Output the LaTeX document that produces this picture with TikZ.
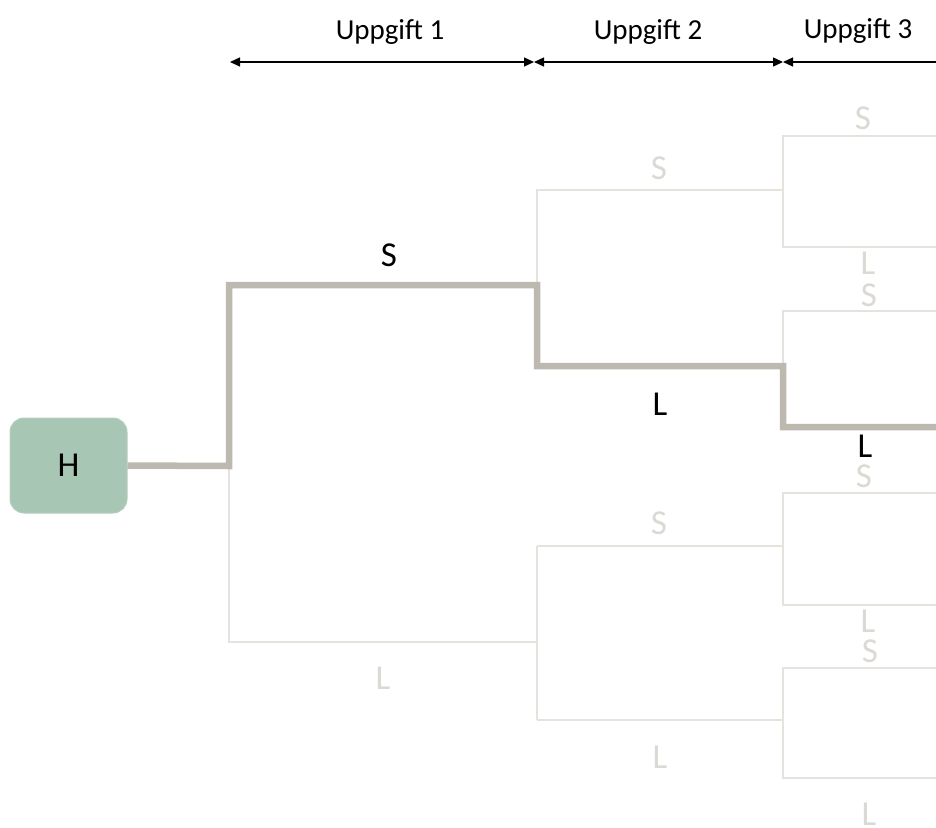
\documentclass[tikz,border=0pt]{standalone}
\usepackage{fontspec}
\setmainfont{Carlito}
\usetikzlibrary{arrows.meta}
\definecolor{pathgray}{HTML}{BDB8B0}
\definecolor{faint}{HTML}{E6E3DF}
\definecolor{fainttext}{HTML}{DCD9D5}
\definecolor{hgreen}{HTML}{A8C6B4}
\begin{document}
\begin{tikzpicture}[x=1pt,y=-1pt,
  thin branch/.style={draw=faint,line width=1.5pt},
  chosen/.style={draw=pathgray,line width=6.5pt,line join=miter},
  span/.style={draw=black,line width=1.3pt,{Triangle[length=10pt,width=9pt]}-{Triangle[length=10pt,width=9pt]}},
  headlbl/.style={font=\fontsize{29}{32}\selectfont,anchor=base,inner sep=0pt},
  lbl/.style={font=\fontsize{35}{38}\selectfont,anchor=base,inner sep=0pt,text=black},
  faintlbl/.style={lbl,text=fainttext},
  hbox/.style={rectangle,rounded corners=14pt,fill=hgreen,draw=hgreen!85!white,line width=1pt,minimum width=117pt,minimum height=95pt,font=\fontsize{35}{38}\selectfont}]
\useasboundingbox (0,0) rectangle (936,827);
\clip (0,0) rectangle (936,827);

% header spans
\coordinate (t0) at (230,62);
\coordinate (t1) at (534,62);
\coordinate (t2) at (783,62);
\coordinate (t3) at (946,62);
\draw[span] (t0) -- (t1);
\draw[span] (t1) -- (t2);
\draw[span] (t2) -- (t3);
\node[headlbl] (u1) at (390,39) {Uppgift 1};
\node[headlbl] (u2) at (648,39) {Uppgift 2};
\node[headlbl] (u3) at (858,38) {Uppgift 3};

% start node
\node[hbox] (H) at (68.5,465.5) {H};

% branch points
\coordinate (a) at (229,466);
\coordinate (aS) at (229,285);
\coordinate (aL) at (229,642);
\coordinate (b1) at (537,285);
\coordinate (b2) at (537,642);
\coordinate (b1S) at (537,190);
\coordinate (b1L) at (537,366);
\coordinate (b2S) at (537,546);
\coordinate (b2L) at (537,720);
\coordinate (c1) at (783,190);
\coordinate (c2) at (783,366);
\coordinate (c3) at (783,546);
\coordinate (c4) at (783,720);
\coordinate (c1S) at (783,136);
\coordinate (c1L) at (783,247);
\coordinate (c2S) at (783,311);
\coordinate (c2L) at (783,427);
\coordinate (c3S) at (783,493);
\coordinate (c3L) at (783,605);
\coordinate (c4S) at (783,668);
\coordinate (c4L) at (783,778);
\coordinate (e1S) at (945,136);
\coordinate (e1L) at (945,247);
\coordinate (e2S) at (945,311);
\coordinate (e2L) at (945,427);
\coordinate (e3S) at (945,493);
\coordinate (e3L) at (945,605);
\coordinate (e4S) at (945,668);
\coordinate (e4L) at (945,778);

% faint branches
\draw[thin branch] (a) -- (aL) -- (b2);
\draw[thin branch] (b1) -- (b1S) -- (c1);
\draw[thin branch] (b2S) -- (b2L);
\draw[thin branch] (b2S) -- (c3);
\draw[thin branch] (b2L) -- (c4);
\draw[thin branch] (e1S) -- (c1S) -- (c1L) -- (e1L);
\draw[thin branch] (e2S) -- (c2S) -- (c2);
\draw[thin branch] (e3S) -- (c3S) -- (c3L) -- (e3L);
\draw[thin branch] (e4S) -- (c4S) -- (c4L) -- (e4L);

% chosen path
\draw[chosen] (H.east) -- (a) -- (aS) -- (b1) -- (b1L) -- (c2) -- (c2L) -- (e2L);

% labels
\node[lbl] (l1S) at (389,266) {S};
\node[faintlbl] (l1L) at (383,689) {L};
\node[faintlbl] (l2aS) at (659,179) {S};
\node[lbl] (l2aL) at (660,415) {L};
\node[faintlbl] (l2bS) at (659,534) {S};
\node[faintlbl] (l2bL) at (660,768) {L};
\node[faintlbl] (l3aS) at (863,129) {S};
\node[faintlbl] (l3aL) at (868,274) {L};
\node[faintlbl] (l3bS) at (869,306) {S};
\node[lbl] (l3bL) at (865,457) {L};
\node[faintlbl] (l3cS) at (864,487) {S};
\node[faintlbl] (l3cL) at (868,632) {L};
\node[faintlbl] (l3dS) at (870,662) {S};
\node[faintlbl] (l3dL) at (869,825) {L};
\end{tikzpicture}
\end{document}
